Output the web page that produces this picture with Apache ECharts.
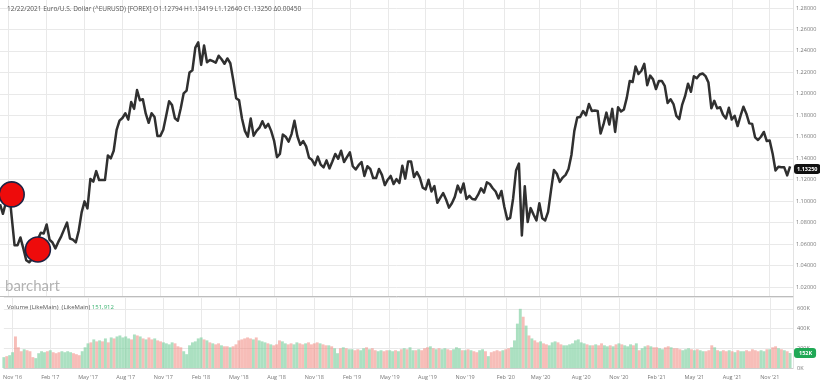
<!DOCTYPE html>
<html><head><meta charset="utf-8">
<script src="https://cdn.jsdelivr.net/npm/echarts@6/dist/echarts.min.js"></script>
<style>html,body{margin:0;padding:0;background:#fff}#c{width:820px;height:385px}</style>
</head><body><div id="c"></div>
<script>
// Weekly (Friday) closes of EUR/USD, first week ending 2016-10-14
const firstWeek = '2016-10-14';
const closes2016 = [1.0972,1.0882,1.0985,1.1138,1.0855,1.0589,1.0588,1.0662,1.0560,1.0449,1.0430,1.0460];
const closes2017 = [1.0531,1.0646,1.0705,1.0699, 1.0783,1.0640,1.0615,1.0560, 1.0620,1.0672,1.0737,1.0800,1.0652,
  1.0641,1.0615,1.0724,1.0895, 1.0998,1.0932,1.1207,1.1182, 1.1280,1.1196,1.1197,1.1196,1.1426,
  1.1399,1.1470,1.1664,1.1750, 1.1775,1.1819,1.1760,1.1924, 1.1860,1.2035,1.1940,1.1950,1.1815,
  1.1730,1.1820,1.1785,1.1607, 1.1608,1.1665,1.1795,1.1932, 1.1895,1.1772,1.1750,1.1865,1.2005];
const closes2018 = [1.2030,1.2200,1.2220,1.2430, 1.2480,1.2270,1.2450,1.2295, 1.2315,1.2305,1.2290,1.2355,1.2322,
  1.2280,1.2330,1.2285,1.2130, 1.1960,1.1940,1.1770,1.1655, 1.1600,1.1770,1.1610,1.1655,1.1685,
  1.1745,1.1685,1.1720,1.1655, 1.1565,1.1410,1.1440,1.1620,1.1600, 1.1555,1.1625,1.1750,1.1605,
  1.1525,1.1560,1.1510,1.1405, 1.1385,1.1335,1.1415,1.1340,1.1315, 1.1380,1.1305,1.1370,1.1440];
const closes2019 = [1.1395,1.1470,1.1365,1.1410, 1.1455,1.1325,1.1295,1.1335, 1.1365,1.1235,1.1325,1.1300,1.1215,
  1.1215,1.1300,1.1245,1.1150, 1.1200,1.1235,1.1160,1.1205,1.1170, 1.1330,1.1210,1.1370,1.1370,
  1.1225,1.1270,1.1220,1.1125, 1.1110,1.1200,1.1090,1.1140,1.0985, 1.1030,1.1075,1.1015,1.0940,
  1.0980,1.1040,1.1145,1.1080, 1.1165,1.1020,1.1050,1.1020,1.1015, 1.1060,1.1120,1.1080,1.1175];
const closes2020 = [1.1160,1.1120,1.1090,1.1025,1.1095, 1.0945,1.0830,1.0845,1.1025, 1.1285,1.1350,1.0680,1.1140,
  1.0805,1.0935,1.0875,1.0820, 1.0980,1.0840,1.0820,1.0900,1.1100, 1.1290,1.1255,1.1180,1.1220,
  1.1245,1.1300,1.1430,1.1655,1.1780, 1.1785,1.1840,1.1800,1.1905, 1.1840,1.1845,1.1840,1.1630,
  1.1715,1.1825,1.1715,1.1860,1.1645, 1.1875,1.1835,1.1855,1.1965, 1.2120,1.2110,1.2255,1.2185];
const closes2021 = [1.2215,1.2280,1.2080,1.2170,1.2135, 1.2045,1.2120,1.2120,1.2075, 1.1915,1.1950,1.1905,1.1795,
  1.1765,1.1900,1.1980,1.2095,1.2020, 1.2165,1.2145,1.2180,1.2190, 1.2165,1.2105,1.1865,1.1935,
  1.1865,1.1875,1.1805,1.1770,1.1870, 1.1760,1.1795,1.1700,1.1795, 1.1880,1.1815,1.1725,1.1720,
  1.1595,1.1570,1.1600,1.1645,1.1560, 1.1565,1.1445,1.1285,1.1320, 1.1315,1.1315,1.1240,1.1325];

// Weekly volume (thousands)
const vol2016 = [110,120,130,160,320,210,170,190,180,170,110,100];
const vol2017 = [150,170,160,170, 180,160,150,160, 170,160,170,160,150, 140,130,170,210, 250,260,290,270,
  280,270,300,260,310, 300,320,330,310, 320,300,290,340, 330,320,300,290,310, 290,300,280,270,
  260,250,240,260, 250,220,210,170,140];
const vol2018 = [230,260,270,300, 310,290,280,260, 250,240,250,230,220, 220,210,220,240, 280,290,300,310,
  300,290,310,280,270, 260,250,240,230, 240,280,270,250,240, 250,240,260,250, 240,250,260,240,
  250,260,250,240,230, 230,220,200,150];
const vol2019 = [200,210,200,190, 190,180,190,180, 200,210,190,200,180, 170,180,170,180, 180,170,180,170,190,
  200,190,210,180, 180,190,180,200, 210,220,200,190,200, 190,200,190,180, 190,210,200,180,
  180,190,180,170,160, 180,190,170,120];
const vol2020 = [160,170,180,170,180, 190,200,210,280, 450,600,520,430, 330,300,280,260, 270,250,240,230,260,
  270,260,240,230, 230,240,250,280,290, 260,250,240,230, 230,240,230,250, 230,220,230,220,240,
  250,240,230,220, 240,230,250,180];
const vol2021 = [200,220,230,220,210, 210,200,190,210, 220,210,200,200, 190,180,190,200,190, 180,190,180,170,
  170,180,230,210, 180,170,180,170,180, 170,160,180,170, 170,180,170,190, 180,170,180,170,190,
  190,210,220,200, 190,180,170,152];

// Annotation circles (week index, price)
const circles = [[4, 1.1063], [13, 1.055]];

const headerText = '12/22/2021 Euro/U.S. Dollar (^EURUSD) [FOREX] O1.12794 H1.13419 L1.12640 C1.13250 \u03940.00450';
const volumeText = '151,912';
const tickMonths = [2, 5, 8, 11];
const MON = ['Jan','Feb','Mar','Apr','May','Jun','Jul','Aug','Sep','Oct','Nov','Dec'];

const closes = [].concat(closes2016, closes2017, closes2018, closes2019, closes2020, closes2021);
const vols = [].concat(vol2016, vol2017, vol2018, vol2019, vol2020, vol2021);

const dates = [];
const t0 = Date.parse(firstWeek + 'T00:00:00Z');
for (let i = 0; i < closes.length + 1; i++) dates.push(new Date(t0 + i * 7 * 864e5).toISOString().slice(0, 10));

const isTick = (i) => {
  const s = dates[i]; if (!s) return false;
  const m = +s.slice(5, 7), day = +s.slice(8, 10);
  return day <= 7 && tickMonths.indexOf(m) >= 0;
};
const fmtDate = (s) => MON[+s.slice(5, 7) - 1] + " '" + s.slice(2, 4);

const UP = 'rgba(120,205,155,0.62)', DN = 'rgba(240,135,125,0.55)';
const volData = vols.map((v, i) => ({ value: v, itemStyle: { color: (i === 0 || closes[i] >= closes[i - 1]) ? UP : DN } }));

const FONT = 'Open Sans';
const gridLine = { show: true, lineStyle: { color: '#e9e9e9', width: 1 } };
const L = 0, R = 27;
const lastClose = closes[closes.length - 1];
const lastVol = vols[vols.length - 1];
const chart = echarts.init(document.getElementById('c'), null, { renderer: 'canvas' });
chart.setOption({
  animation: false,
  backgroundColor: '#fff',
  textStyle: { fontFamily: FONT },
  title: [
    { text: headerText, left: 2, top: 1, textStyle: { fontSize: 6.5, fontWeight: 'normal', color: '#555', fontFamily: FONT } },
    { text: 'barchart', left: 0, top: 274, textStyle: { fontSize: 15, fontWeight: 'normal', color: '#b3b3b3', fontFamily: 'Lato' } },
    { text: 'Volume (LikeMain)  (LikeMain) {g|' + volumeText + '}', left: 2, top: 299,
      textStyle: { fontSize: 6, fontWeight: 'normal', color: '#555', fontFamily: FONT,
        rich: { g: { color: '#3cb371', fontSize: 6, fontFamily: FONT } } } }
  ],
  grid: [
    { left: L, right: R, top: 8, height: 279 },
    { left: L, right: R, top: 0, height: 296 },
    { left: L, right: R, top: 297, height: 71 }
  ],
  xAxis: [
    { gridIndex: 0, type: 'category', data: dates, boundaryGap: false, axisLine: { show: false }, axisTick: { show: false }, axisLabel: { show: false }, splitLine: { show: false } },
    { gridIndex: 1, type: 'category', data: dates, boundaryGap: false, axisLine: { show: true, lineStyle: { color: '#bdbdbd' } }, axisTick: { show: false }, axisLabel: { show: false },
      splitLine: { show: true, interval: (i) => isTick(i), lineStyle: { color: '#e9e9e9' } } },
    { gridIndex: 2, type: 'category', data: dates, boundaryGap: false, axisLine: { show: true, lineStyle: { color: '#cfcfcf' } }, axisTick: { show: false },
      axisLabel: { show: true, interval: (i) => isTick(i), formatter: (v) => fmtDate(v), fontSize: 5.5, color: '#777', margin: 6, fontFamily: FONT },
      splitLine: { show: true, interval: (i) => isTick(i), lineStyle: { color: '#e9e9e9' } } }
  ],
  yAxis: [
    { gridIndex: 0, type: 'value', position: 'right', min: 1.02, max: 1.28, interval: 0.02, axisLine: { show: false }, axisTick: { show: false },
      axisLabel: { formatter: (v) => v.toFixed(5), fontSize: 5.5, color: '#777', margin: 3, fontFamily: FONT }, splitLine: gridLine },
    { gridIndex: 1, type: 'value', position: 'right', min: 0, max: 1, axisLine: { show: true, lineStyle: { color: '#e3e3e3' } }, axisTick: { show: false }, axisLabel: { show: false }, splitLine: { show: false } },
    { gridIndex: 2, type: 'value', position: 'right', min: 0, max: 720, interval: 200, axisLine: { show: true, lineStyle: { color: '#e3e3e3' } }, axisTick: { show: false },
      axisLabel: { formatter: (v) => (v % 200 ? '' : v + 'K'), fontSize: 5.5, color: '#777', margin: 4, fontFamily: FONT }, splitLine: gridLine }
  ],
  series: [
    { type: 'bar', xAxisIndex: 2, yAxisIndex: 2, data: volData, barWidth: '100%', barCategoryGap: '0%', silent: true, clip: false,
      markLine: { silent: true, symbol: 'none', lineStyle: { color: 'rgba(0,0,0,0)', width: 1, type: 'solid' },
        data: [{ yAxis: lastVol }],
        label: { show: true, position: 'end', distance: 1, formatter: () => Math.round(lastVol) + 'K', backgroundColor: '#1fa855', color: '#fff', fontSize: 5.5, fontWeight: 'bold', padding: [2, 4, 2, 5], borderRadius: 3, fontFamily: FONT, opacity: 1 } } },
    { type: 'line', xAxisIndex: 0, yAxisIndex: 0, data: closes, showSymbol: false, symbol: 'none', silent: true, clip: false,
      lineStyle: { color: '#303030', width: 2.5, join: 'round' }, z: 3,
      markLine: { silent: true, symbol: 'none', lineStyle: { color: 'rgba(0,0,0,0)', width: 1, type: 'solid' },
        data: [{ yAxis: lastClose }],
        label: { show: true, position: 'end', distance: 1, formatter: () => lastClose.toFixed(5), backgroundColor: '#111', color: '#fff', fontSize: 5.5, fontWeight: 'bold', padding: [2, 3, 2, 3], borderRadius: 3, fontFamily: FONT, opacity: 1 } } },
    { type: 'scatter', xAxisIndex: 0, yAxisIndex: 0, data: circles, symbolSize: 25, silent: true, z: 5,
      itemStyle: { color: '#ee0b0b', borderColor: '#1d2344', borderWidth: 1.6, opacity: 1 } }
  ]
});
</script></body></html>
